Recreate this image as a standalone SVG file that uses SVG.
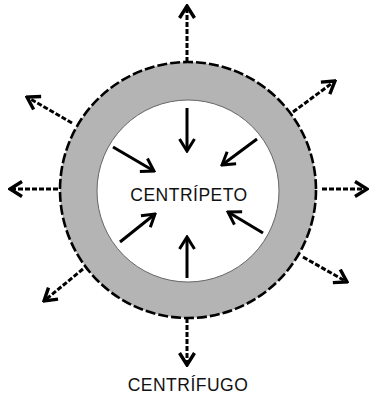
<svg xmlns="http://www.w3.org/2000/svg" width="369" height="394" viewBox="0 0 369 394">
<defs>
<marker id="chev" viewBox="0 0 16 18" refX="14" refY="9" markerWidth="16" markerHeight="18" markerUnits="userSpaceOnUse" orient="auto">
<path d="M2,1.5 L14,9 L2,16.5" fill="none" stroke="#000" stroke-width="3" stroke-linejoin="miter"/>
</marker>
<marker id="chevb" viewBox="0 0 16 18" refX="14" refY="9" markerWidth="16" markerHeight="18" markerUnits="userSpaceOnUse" orient="auto">
<path d="M2,1.5 L14,9 L2,16.5" fill="none" stroke="#000" stroke-width="3.4" stroke-linejoin="miter"/>
</marker>
</defs>
<style>
.txt{font-family:"Liberation Sans",Arial,sans-serif;font-size:17.5px;letter-spacing:0.5px;fill:#111;text-anchor:middle}
.in{stroke:#000;stroke-width:3;fill:none;marker-end:url(#chev)}
.out{stroke:#000;stroke-width:3;fill:none;stroke-dasharray:5 2;marker-end:url(#chevb)}
</style>
<rect width="369" height="394" fill="#fff"/>
<g id="ring">
<circle cx="188" cy="190" r="128" fill="#b4b4b4" stroke="#000" stroke-width="2.6" stroke-dasharray="10 3"/>
<circle cx="188" cy="191" r="91" fill="#fff" stroke="#666" stroke-width="1"/>
</g>
<g id="centripeto">
<text class="txt" x="189" y="201">CENTRÍPETO</text>
</g>
<g id="centrifugo">
<text class="txt" x="188" y="391">CENTRÍFUGO</text>
</g>
<g id="connectors">
<line class="in" x1="187" y1="108" x2="187" y2="151"/>
<line class="in" x1="113" y1="147" x2="154" y2="171"/>
<line class="in" x1="257" y1="139" x2="222" y2="165"/>
<line class="in" x1="120" y1="242" x2="155" y2="214"/>
<line class="in" x1="263" y1="233" x2="228" y2="212"/>
<line class="in" x1="187" y1="278" x2="187" y2="237"/>
<line class="out" x1="187" y1="62" x2="187" y2="6"/>
<line class="out" x1="72" y1="123" x2="27" y2="97"/>
<line class="out" x1="58" y1="189" x2="10" y2="189"/>
<line class="out" x1="293" y1="112" x2="335" y2="81"/>
<line class="out" x1="322" y1="189" x2="367" y2="189"/>
<line class="out" x1="83" y1="269" x2="44" y2="301"/>
<line class="out" x1="303" y1="257" x2="347" y2="282"/>
<line class="out" x1="187" y1="318" x2="187" y2="365"/>
</g>
</svg>
